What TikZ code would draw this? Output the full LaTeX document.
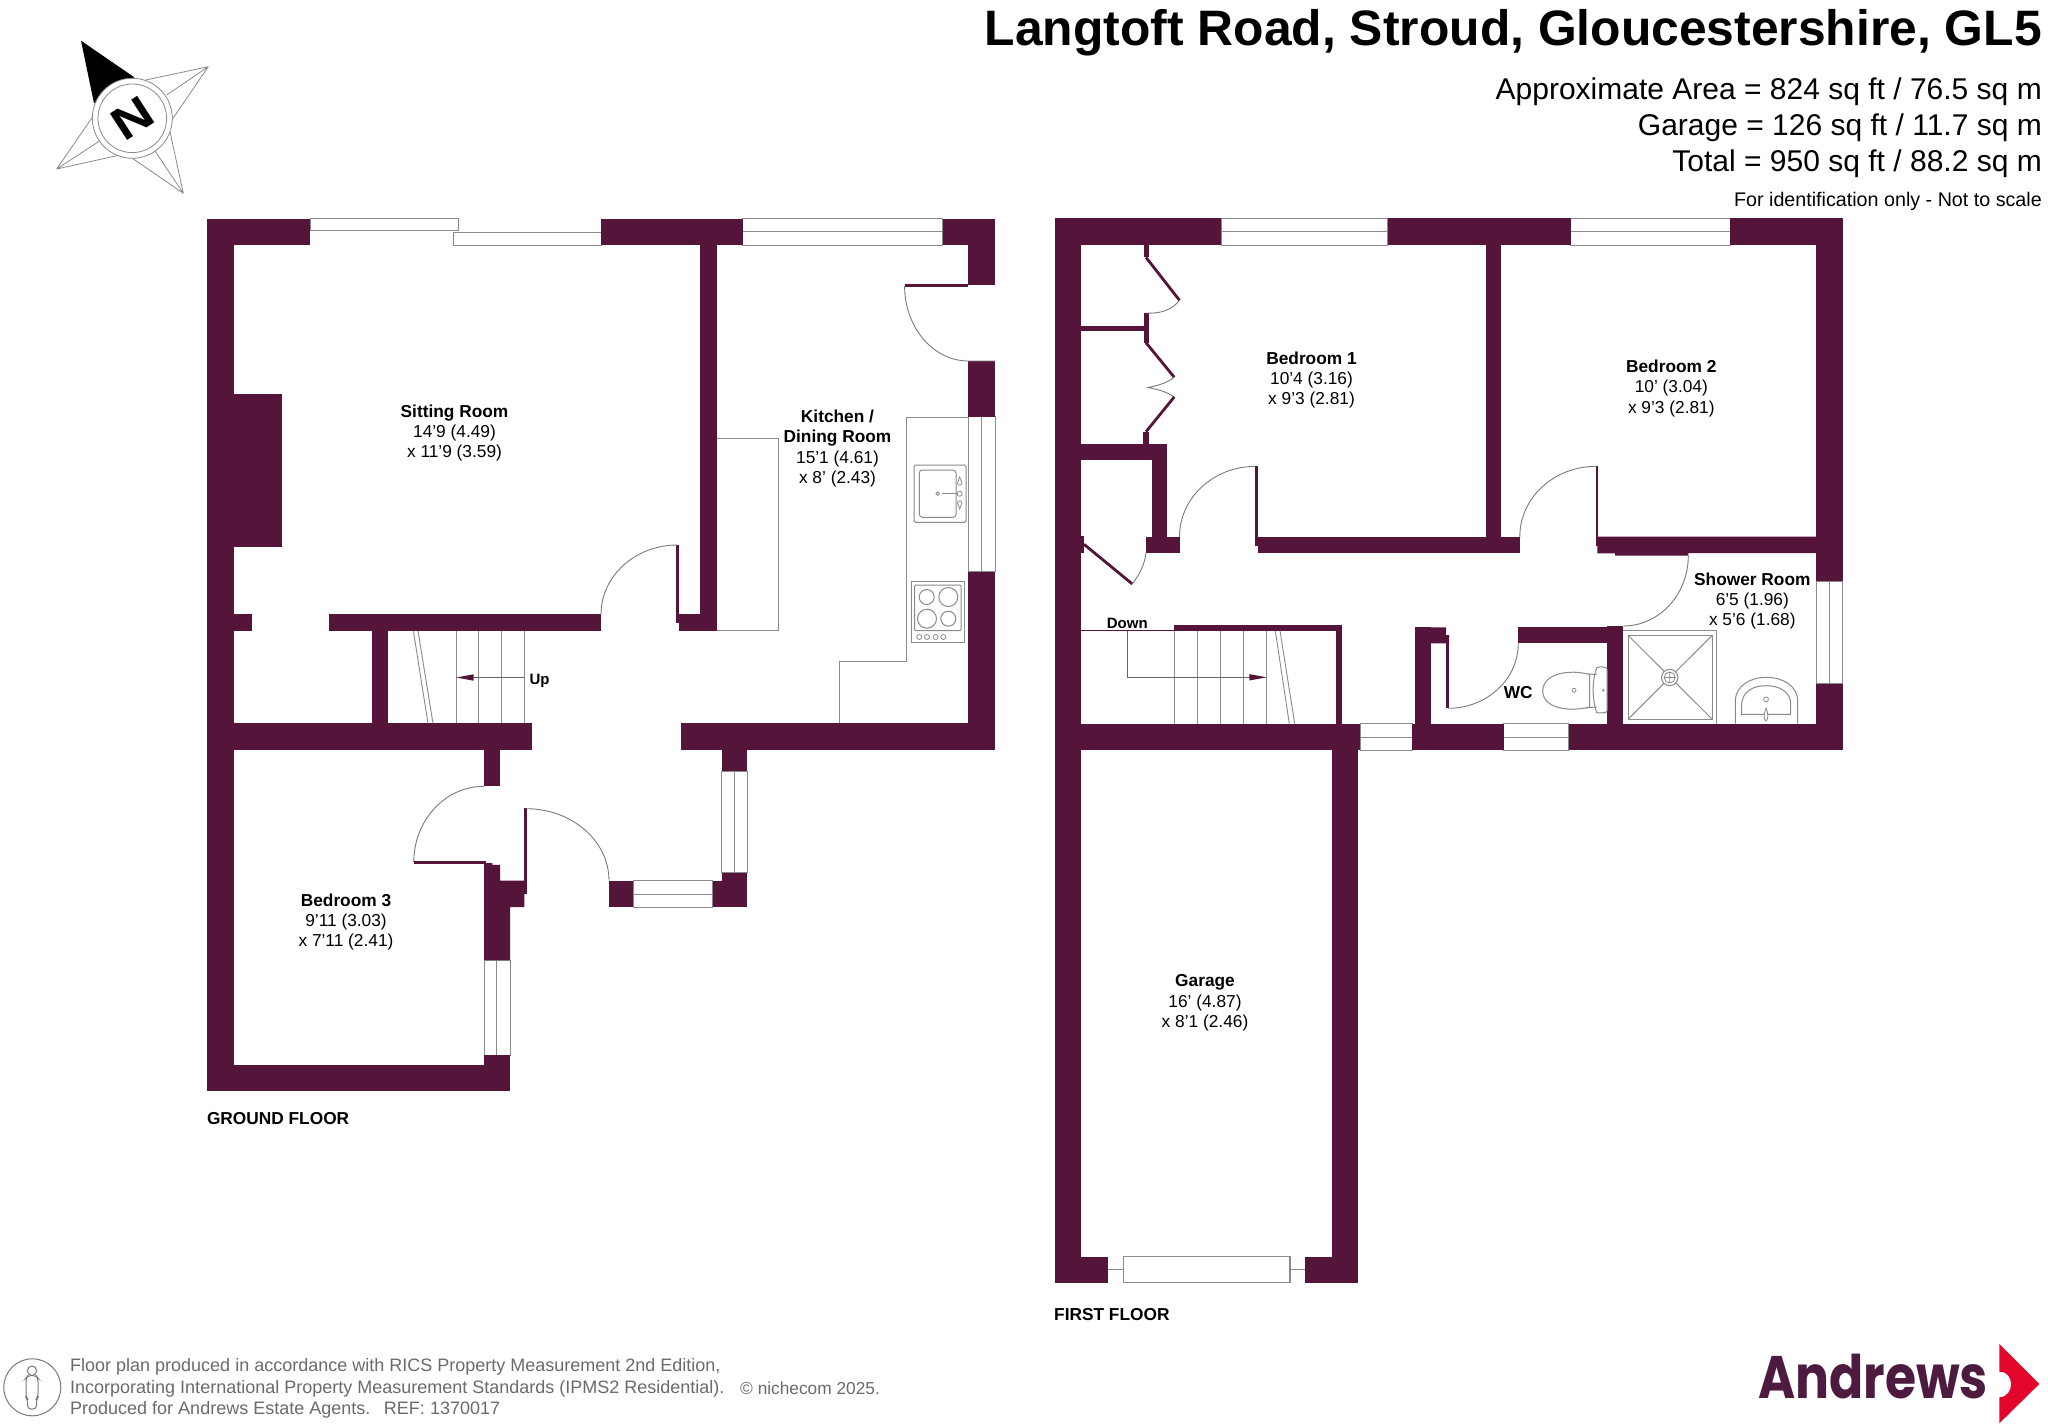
\documentclass[tikz,border=0pt]{standalone}
\usepackage{graphicx}
\usepackage{fontspec}
\setmainfont{Liberation Sans}
\newfontfamily\logofont{Poppins}
\usetikzlibrary{calc}
\definecolor{wallc}{HTML}{55153A}
\definecolor{linec}{HTML}{8A8A8A}
\definecolor{doorc}{HTML}{7A7A7A}
\definecolor{footc}{HTML}{6B6B6B}
\definecolor{logoc}{HTML}{4D1B3F}
\definecolor{redc}{HTML}{E2062C}
\tikzset{
  wall/.style={fill=wallc},
  winbox/.style={draw=linec,fill=white,line width=0.9pt},
  thin line/.style={draw=linec,line width=0.9pt},
  arrow line/.style={draw=black!60,line width=1pt},
  door/.style={draw=doorc,line width=0.9pt},
  leaf/.style={draw=wallc,line width=2.8pt},
  fixture/.style={draw=linec,line width=1pt},
  room/.style={inner sep=0pt,align=center,font=\fontsize{17.3}{20.3}\selectfont},
  lab/.style={inner sep=0pt,font=\fontsize{15}{18}\selectfont\bfseries},
  floorlab/.style={inner sep=0pt,anchor=west,font=\fontsize{17.3}{20}\selectfont\bfseries},
  head/.style={inner sep=0pt,anchor=east,font=\fontsize{30}{34}\selectfont},
  foot/.style={inner sep=0pt,anchor=west,text=footc,font=\fontsize{18}{20}\selectfont},
}
\newcommand{\qcurve}[6]{(#1,#2) .. controls ($(#1,#2)!0.552!(#3,#4)$) and ($(#5,#6)!0.552!(#3,#4)$) .. (#5,#6)}
\newcommand{\winh}[5]{\draw[winbox] (#1,#3) rectangle (#2,#4); \draw[thin line] (#1,#5) -- (#2,#5);}
\newcommand{\winv}[5]{\draw[winbox] (#1,#3) rectangle (#2,#4); \draw[thin line] (#5,#3) -- (#5,#4);}
\begin{document}
\begin{tikzpicture}[x=1pt,y=-1pt]
\useasboundingbox (0,0) rectangle (2048,1426);
\fill[white] (0,0) rectangle (2048,1426);

% ---------- compass
\draw[fixture,line width=0.8pt,line join=round] (145.7,80) -- (208.3,66.7) -- (172.3,119.3) (166.7,95) -- (208.3,66.7);
\draw[fixture,line width=0.8pt,line join=round] (170,131.7) -- (183.3,193.3) -- (129,156) (155,151) -- (183.3,193.3);
\draw[fixture,line width=0.8pt,line join=round] (120,155) -- (56.7,169) -- (92.7,116.7) (100,140.7) -- (56.7,169);
\fill[black] (81,40.7) -- (134.3,77.3) -- (94,103.3) -- cycle;
\draw[fixture,line width=0.8pt,fill=white] (132.3,118.3) circle (40);
\draw[fixture,line width=0.8pt] (132.3,118.3) circle (34.3);
\node[inner sep=0pt,rotate=33,font=\fontsize{46}{46}\selectfont\bfseries] (north) at (132.3,118.3) {\scalebox{1.2}[1]{N}};

% ---------- ground floor windows
\winh{310}{458.5}{218.5}{230.5}{218.5}
\winh{453}{601}{232}{245}{232}
\winh{742.6}{942.5}{218.5}{245}{231.5}
\winv{968.4}{995}{416.5}{571.7}{981.7}
\winh{633}{712.7}{880.6}{907.2}{894.4}
\winv{721.5}{747}{771}{872.7}{734.5}
\winv{484}{510}{960}{1055.2}{496.9}

% ---------- ground floor walls
\fill[wall] (207.4,218.5) rectangle (310,245);
\fill[wall] (207.4,218.5) rectangle (233.7,1091.4);
\fill[wall] (601,218.5) rectangle (742.6,245);
\fill[wall] (942.5,218.5) rectangle (995,245);
\fill[wall] (968.4,218.5) rectangle (995,284.7);
\fill[wall] (968.4,361.3) rectangle (995,416.5);
\fill[wall] (968.4,571.7) rectangle (995,750.2);
\fill[wall] (233.7,394) rectangle (281.5,547.3);
\fill[wall] (233.7,614.4) rectangle (251.6,631);
\fill[wall] (328.5,614.4) rectangle (601,631);
\fill[wall] (371.7,631) rectangle (388.2,723.3);
\fill[wall] (207.4,723.3) rectangle (531.7,750.4);
\fill[wall] (681,723.3) rectangle (995,750.2);
\fill[wall] (700,245) rectangle (716.5,631);
\fill[wall] (679.3,613.9) rectangle (716.5,631);
\fill[wall] (484,750) rectangle (500,786.2);
\fill[wall] (484,863) -- (492.3,863) -- (492.3,864.8) -- (500,864.8) -- (500,880.6) -- (524.4,880.6) -- (524.4,907) -- (510,907) -- (510,960) -- (484,960) -- cycle;
\fill[wall] (609,880.6) rectangle (633,907.2);
\fill[wall] (712.7,880.6) rectangle (721.5,907.2);
\fill[wall] (721.5,872.7) rectangle (747,907.2);
\fill[wall] (721.5,750) rectangle (747,771);
\fill[wall] (207.4,1064.9) rectangle (510,1091.4);
\fill[wall] (484,1055.2) rectangle (510,1091.4);

% ground floor door leaves and swings
\draw[leaf] (904.6,285.6) -- (968.4,285.6);
\draw[door] \qcurve{904.6}{286}{904.6}{361}{968.4}{361} -- (995,361);
\fill[wall] (676,545) rectangle (679.3,622.5);
\draw[door] \qcurve{677.3}{545}{601}{545}{601}{614.4};
\draw[door] \qcurve{484}{786.3}{413.8}{786.3}{413.8}{862};
\fill[wall] (413.8,861) rectangle (486,864);
\fill[wall] (524.4,808.3) rectangle (527,894);
\draw[door] \qcurve{526.3}{808.7}{609}{808.7}{609}{880.6};

% kitchen units
\draw[fixture] (716.5,438) -- (778.6,438) -- (778.6,630.5) -- (716.5,630.5);
\draw[fixture] (968.4,417.6) -- (906.4,417.6) -- (906.4,661.7) -- (839.3,661.7) -- (839.3,723.3);
\draw[fixture,rounded corners=1.5pt] (914,465) rectangle (966,522.3);
\draw[fixture,rounded corners=3pt] (919.3,470) rectangle (956,517.3);
\draw[fixture,line width=0.8pt] (937.7,493.7) circle (1.7) (959.7,493.7) circle (2.6);
\draw[fixture,line width=1.5pt] (942.3,493.7) -- (957,493.7);
\draw[fixture,line width=0.8pt] (959.7,477) -- (957.5,483) arc (180:0:2.2) -- cycle;
\draw[fixture,line width=0.8pt] (959.7,509) -- (957.5,503) arc (-180:0:2.2) -- cycle;
\draw[fixture] (911.7,581.7) rectangle (964,642.7);
\draw[fixture,rounded corners=1pt] (914.7,585) rectangle (961,630.7);
\draw[fixture] (926.7,597) circle (7.5) (948.3,597) circle (9.5) (927,618.7) circle (9.5) (948.3,618.7) circle (7.5);
\draw[fixture,line width=0.8pt] (919.3,637) circle (2.5) (927,637) circle (2.5) (935.7,637) circle (2.5) (943.3,637) circle (2.5);

% ground floor stairs
\foreach \tx in {456,478.9,501.8,524.4} {\draw[thin line] (\tx,631) -- (\tx,723.3);}
\draw[thin line] (413.4,631) -- (428,723.3) (418,631) -- (433,723.3);
\draw[arrow line] (524.4,677.5) -- (470,677.5);
\fill[wallc] (456.3,677.5) -- (473.5,674.3) -- (473.5,680.7) -- cycle;
\node[lab,anchor=west] (up) at (529.4,681) {Up};

% ---------- first floor windows
\winh{1221.3}{1387.8}{218.3}{245.2}{231.8}
\winh{1570.7}{1730}{218.3}{245.2}{231.8}
\winv{1816.2}{1842.8}{581.3}{683.7}{1829.5}
\winh{1360}{1412.3}{723.7}{750}{737.3}
\winh{1503.7}{1568.7}{723.7}{750}{737.3}

% ---------- first floor walls
\fill[wall] (1055,218.3) rectangle (1221.3,245.2);
\fill[wall] (1387.8,218.3) rectangle (1570.7,245.2);
\fill[wall] (1730,218.3) rectangle (1842.8,245.2);
\fill[wall] (1055,218.3) rectangle (1081,1282.7);
\fill[wall] (1816.2,218.3) rectangle (1842.8,581.3);
\fill[wall] (1816.2,683.7) rectangle (1842.8,750);
\fill[wall] (1485.8,245) rectangle (1500.8,537);
\fill[wall] (1257.5,536.5) rectangle (1519.8,553);
\fill[wall] (1146,536.5) rectangle (1180,552.7);
\fill[wall] (1151.7,444) rectangle (1167.3,536.5);
\fill[wall] (1081,444) rectangle (1167.3,460);
\fill[wall] (1143.3,431.7) rectangle (1148.7,444);
\fill[wall] (1143.5,245) rectangle (1148.8,257.4);
\fill[wall] (1143.5,313) rectangle (1148.8,342.7);
\fill[wall] (1081,326.3) rectangle (1148.8,331.3);
\fill[wall] (1081,536) rectangle (1084,552.7);
\fill[wall] (1597.3,536.7) -- (1816.2,536.7) -- (1816.2,553.2) -- (1688.3,553.2) -- (1688.3,555.7) -- (1615,555.7) -- (1615,553.3) -- (1597.3,553.3) -- cycle;
\fill[wall] (1055,723.7) rectangle (1360,750);
\fill[wall] (1412.3,723.7) rectangle (1503.7,750);
\fill[wall] (1568.7,723.7) rectangle (1842.8,750);
\fill[wall] (1331.7,750) rectangle (1357.7,1282.7);
\fill[wall] (1174.3,625) rectangle (1342.3,630.7);
\fill[wall] (1336,625) rectangle (1342.3,723.7);
\fill[wall] (1607.3,626) rectangle (1623.3,723.7);
\fill[wall] (1518.3,627.3) rectangle (1607.3,643.3);
\fill[wall] (1415,627.3) rectangle (1430.7,723.7);
\fill[wall] (1415,627.3) -- (1446,627.3) -- (1446,635) -- (1449,635) -- (1449,643.3) -- (1415,643.3) -- cycle;
\fill[wall] (1446,635) rectangle (1449,708.3);
\fill[wall] (1255,466.2) rectangle (1258,546);
\fill[wall] (1595.5,466.2) rectangle (1598,546);

% first floor door swings and leaves
\draw[door] \qcurve{1255.2}{466.4}{1179.5}{466.4}{1179.5}{536.8};
\draw[door] \qcurve{1595.5}{466.4}{1519.8}{466.4}{1519.8}{536.8};
\draw[door] \qcurve{1688.3}{555.7}{1688.3}{626}{1623.3}{626};
\draw[door] \qcurve{1518.3}{643.3}{1518.3}{708.3}{1448.3}{708.3};
\draw[leaf] (1084,544.3) -- (1132.3,584);
\draw[door] (1132.3,584) .. controls (1140,574) and (1145,563) .. (1146,552.7);
\draw[leaf] (1146,257.4) -- (1179.5,300.3);
\draw[door] (1179.5,300.3) .. controls (1172,310) and (1160,314) .. (1146,313);
\draw[leaf] (1146,342.7) -- (1174.2,377.2);
\draw[door] (1174.2,377.2) .. controls (1166,384) and (1155,386) .. (1148,387.5) .. controls (1155,389) and (1166,391) .. (1174.2,397);
\draw[leaf] (1174.2,397) -- (1146,431.7);

% first floor stairs
\draw[draw=wallc,line width=1pt] (1081,630.4) -- (1174.3,630.4);
\foreach \tx in {1174.3,1197.3,1220.3,1243.7,1266.7} {\draw[thin line] (\tx,630.7) -- (\tx,723.7);}
\draw[thin line] (1275.3,630.7) -- (1289.3,723.7) (1280,630.7) -- (1294.7,723.7);
\draw[arrow line] (1127.7,630.7) -- (1127.7,677.3) -- (1252,677.3);
\fill[wallc] (1266.7,677.3) -- (1249.3,674.1) -- (1249.3,680.5) -- cycle;
\node[lab] (down) at (1127.3,623.7) {Down};

% WC
\draw[fixture,fill=white] (1596.7,667.7) .. controls (1592,680) and (1592,700) .. (1596.7,712.7) .. controls (1602,713) and (1607,713) .. (1607,711) -- (1607,669) .. controls (1607,667) and (1600,666) .. (1596.7,667.7) -- cycle;
\draw[fixture] (1570,673) -- (1596.7,674.5) (1572,709) -- (1596.7,707);
\draw[fixture,fill=white] (1589.5,674.5) .. controls (1570,669) and (1543,673) .. (1542.7,691) .. controls (1543,709) and (1570,712) .. (1589.5,707) -- cycle;
\draw[fixture,line width=0.8pt] (1574,690.3) circle (2) (1603.3,690.3) circle (0.8);

% shower
\draw[fixture] (1623.3,630.7) -- (1716.7,630.7) -- (1716.7,723.7);
\draw[fixture] (1628,635.3) rectangle (1712.3,719.3);
\draw[fixture] (1628,635.3) -- (1712.3,719.3) (1628,719.3) -- (1712.3,635.3);
\draw[fixture,fill=white] (1669.7,677.5) circle (8.2);
\draw[fixture,line width=0.8pt] (1669.7,677.5) circle (5.5) (1664.2,677.5) -- (1675.2,677.5) (1669.7,672) -- (1669.7,683);

% basin
\draw[fixture] (1735.3,723.7) -- (1735.3,700) .. controls (1736,686) and (1750,677.3) .. (1766.5,677.3) .. controls (1783,677.3) and (1797,686) .. (1797.7,700) -- (1797.7,723.7);
\draw[fixture] (1741.7,714.3) -- (1741.7,703) .. controls (1743,692) and (1752,685.7) .. (1766,685.7) .. controls (1780,685.7) and (1790,692) .. (1790.7,703) -- (1790.7,714.3) -- cycle;
\draw[fixture,line width=0.8pt] (1766,699.3) circle (2.4);
\draw[fixture,line width=0.8pt,fill=white] (1766,708) .. controls (1763.5,714) and (1763.5,719) .. (1766,721) .. controls (1768.5,719) and (1768.5,714) .. (1766,708) -- cycle;

% garage door
\fill[wall] (1055,1256.7) rectangle (1108.3,1282.7);
\fill[wall] (1305,1256.7) rectangle (1357.7,1282.7);
\draw[thin line] (1108.3,1269.3) -- (1123.3,1269.3) (1290,1269.3) -- (1305,1269.3);
\draw[winbox,line width=1.2pt] (1123.3,1256.7) rectangle (1290,1282.7);

% ---------- room labels
\node[room] (sit) at (454.5,433) {\textbf{Sitting Room}\\14'9 (4.49)\\x 11'9 (3.59)};
\node[room] (kit) at (837.5,448.5) {\textbf{Kitchen /}\\\textbf{Dining Room}\\15'1 (4.61)\\x 8' (2.43)};
\node[room] (bed3) at (346,922) {\textbf{Bedroom 3}\\9'11 (3.03)\\x 7'11 (2.41)};
\node[room] (bed1) at (1311.5,380) {\textbf{Bedroom 1}\\10'4 (3.16)\\x 9'3 (2.81)};
\node[room] (bed2) at (1671.3,388.4) {\textbf{Bedroom 2}\\10' (3.04)\\x 9'3 (2.81)};
\node[room] (shower) at (1752.3,601) {\textbf{Shower Room}\\6'5 (1.96)\\x 5'6 (1.68)};
\node[room] (wc) at (1518.3,693) {\textbf{WC}};
\node[room] (garage) at (1205,1003) {\textbf{Garage}\\16' (4.87)\\x 8'1 (2.46)};
\node[floorlab] (gf) at (206.8,1119) {GROUND FLOOR};
\node[floorlab] (ff) at (1054,1315) {FIRST FLOOR};

% ---------- heading
\node[inner sep=0pt,anchor=east,font=\fontsize{49.8}{52}\selectfont\bfseries] (title) at (2042,32.5) {Langtoft Road, Stroud, Gloucestershire, GL5};
\node[head] (area1) at (2042,92) {Approximate Area = 824 sq ft / 76.5 sq m};
\node[head] (area2) at (2042,128) {Garage = 126 sq ft / 11.7 sq m};
\node[head] (area3) at (2042,163.5) {Total = 950 sq ft / 88.2 sq m};
\node[inner sep=0pt,anchor=east,font=\fontsize{19.7}{22}\selectfont] (note) at (2042,201) {For identification only - Not to scale};

% ---------- footer
\draw[doorc,line width=1pt] (32.3,1387.3) circle (28.5);
\draw[doorc,line width=1pt] (32,1370.7) circle (4.7);
\draw[doorc,line width=1pt,rounded corners=3.5pt] (28,1375.5) -- (36,1375.5) -- (38,1378) -- (38,1397) -- (36.5,1399) -- (36.5,1409) -- (27.5,1409) -- (27.5,1399) -- (26,1397) -- (26,1378) -- cycle;
\node[foot] (f1) at (70,1367.2) {Floor plan produced in accordance with RICS Property Measurement 2nd Edition,};
\node[foot] (f2) at (70,1388.8) {Incorporating International Property Measurement Standards (IPMS2 Residential).};
\node[foot] (f3) at (70,1409.8) {Produced for Andrews Estate Agents.\hspace{7pt} REF: 1370017};
\node[foot,font=\fontsize{17.3}{20}\selectfont] (f4) at (740,1388.8) {© nichecom 2025.};

% ---------- logo
\node[inner sep=0pt,anchor=base west,text=logoc,font=\logofont\fontsize{60}{60}\selectfont\bfseries] (andrews) at (1758,1398.3) {\scalebox{0.84}[1]{Andrews}};
\fill[redc] (1999.3,1344) -- (2039.3,1384) -- (1999.3,1423.3) -- (1999.3,1397.3) .. controls (2015,1397) and (2015,1371) .. (1999.3,1371.7) -- cycle;
\end{tikzpicture}
\end{document}
